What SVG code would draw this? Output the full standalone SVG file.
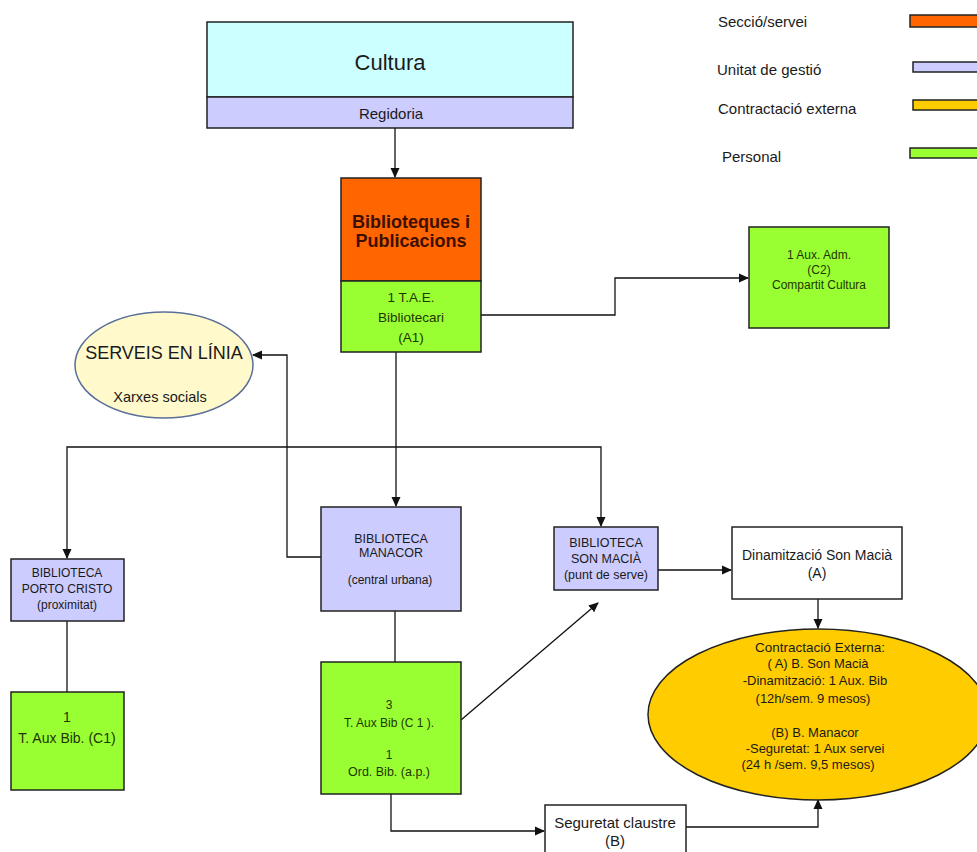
<svg xmlns="http://www.w3.org/2000/svg" width="977" height="852" viewBox="0 0 977 852">
<style>
text{font-family:"Liberation Sans",Arial,sans-serif;text-anchor:middle;dominant-baseline:central;fill:#1a1a1a}
.box{stroke:#222;stroke-width:1.5}
.cy{fill:#CCFFFF}.lav{fill:#CCCCFF}.org{fill:#FF6600}.grn{fill:#99FF33}.yel{fill:#FFCC00}.wht{fill:#FFFFFF}
.gt{fill:#1f3600}
.ot{fill:#3d0f00;font-weight:bold;font-size:18px}
.lg{text-anchor:start;font-size:15px}
.c{fill:none;stroke:#111;stroke-width:1.3}
</style>
<defs>
<marker id="ah" markerWidth="10" markerHeight="10" refX="9" refY="5" orient="auto" markerUnits="userSpaceOnUse">
<path d="M0,0.5 L10,5 L0,9.5 Z" fill="#111"/>
</marker>
</defs>

<g id="legend">
<text class="lg" x="718" y="21">Secció/servei</text>
<rect class="box org" x="910" y="15" width="80" height="12"/>
<text class="lg" x="717" y="69">Unitat de gestió</text>
<rect class="box lav" x="913" y="62" width="80" height="10"/>
<text class="lg" x="718" y="108">Contractació externa</text>
<rect class="box yel" x="913" y="100" width="80" height="10"/>
<text class="lg" x="722" y="156">Personal</text>
<rect class="box grn" x="910" y="148" width="80" height="10"/>
</g>

<g id="connectors">
<path class="c" d="M395,128 V177" marker-end="url(#ah)"/>
<path class="c" d="M481,315 H615 V278 H748" marker-end="url(#ah)"/>
<path class="c" d="M396,352 V506" marker-end="url(#ah)"/>
<path class="c" d="M396,447 H67 V558" marker-end="url(#ah)"/>
<path class="c" d="M396,447 H601 V526" marker-end="url(#ah)"/>
<path class="c" d="M321,557 H287 V355 H253" marker-end="url(#ah)"/>
<path class="c" d="M67,621 V692"/>
<path class="c" d="M395,611 V662"/>
<path class="c" d="M461,720 L598,603" marker-end="url(#ah)"/>
<path class="c" d="M658,570 H731" marker-end="url(#ah)"/>
<path class="c" d="M818,599 V628" marker-end="url(#ah)"/>
<path class="c" d="M391,794 V831 H544" marker-end="url(#ah)"/>
<path class="c" d="M686,827 H818 V800" marker-end="url(#ah)"/>
</g>

<g id="cultura">
<rect class="box cy" x="207" y="22" width="366" height="75"/>
<rect class="box lav" x="207" y="97" width="366" height="31"/>
<text x="390" y="62" style="font-size:22px">Cultura</text>
<text x="391" y="113" style="font-size:15px">Regidoria</text>
</g>

<g id="biblioteques">
<rect class="box org" x="341" y="178" width="140" height="103"/>
<rect class="box grn" x="341" y="281" width="140" height="71"/>
<text class="ot" x="411" y="222">Biblioteques i</text>
<text class="ot" x="411" y="241">Publicacions</text>
<text class="gt" x="411" y="297" style="font-size:13.5px">1 T.A.E.</text>
<text class="gt" x="411" y="317" style="font-size:13.5px">Bibliotecari</text>
<text class="gt" x="411" y="337" style="font-size:13.5px">(A1)</text>
</g>

<g id="auxadm">
<rect class="box grn" x="749" y="227" width="140" height="101"/>
<text class="gt" x="819" y="255" style="font-size:12px">1 Aux. Adm.</text>
<text class="gt" x="819" y="270" style="font-size:12px">(C2)</text>
<text class="gt" x="819" y="285" style="font-size:12px">Compartit Cultura</text>
</g>

<g id="serveis">
<ellipse cx="164" cy="365" rx="89" ry="53" fill="#FFF9CC" stroke="#5B6F99" stroke-width="1.5"/>
<text x="164" y="353" style="font-size:18px">SERVEIS EN LÍNIA</text>
<text x="160" y="397" style="font-size:14.5px">Xarxes socials</text>
</g>

<g id="portocristo">
<rect class="box lav" x="11" y="559" width="113" height="62"/>
<text x="67" y="573" style="font-size:12px">BIBLIOTECA</text>
<text x="67" y="589" style="font-size:12px">PORTO CRISTO</text>
<text x="67" y="605" style="font-size:12px">(proximitat)</text>
</g>

<g id="portocristo-personal">
<rect class="box grn" x="11" y="692" width="113" height="98"/>
<text class="gt" x="67" y="717" style="font-size:14px">1</text>
<text class="gt" x="67" y="738" style="font-size:14px">T. Aux Bib. (C1)</text>
</g>

<g id="manacor">
<rect class="box lav" x="321" y="507" width="140" height="104"/>
<text x="391" y="539" style="font-size:12.5px">BIBLIOTECA</text>
<text x="391" y="553" style="font-size:12.5px">MANACOR</text>
<text x="390" y="580" style="font-size:12px">(central urbana)</text>
</g>

<g id="manacor-personal">
<rect class="box grn" x="321" y="662" width="140" height="132"/>
<text class="gt" x="389" y="705" style="font-size:12px">3</text>
<text class="gt" x="389" y="723" style="font-size:12px">T. Aux Bib (C 1 ).</text>
<text class="gt" x="389" y="755" style="font-size:12px">1</text>
<text class="gt" x="389" y="772" style="font-size:12.5px">Ord. Bib. (a.p.)</text>
</g>

<g id="sonmacia">
<rect class="box lav" x="554" y="527" width="104" height="63"/>
<text x="606" y="543" style="font-size:12.5px">BIBLIOTECA</text>
<text x="606" y="559" style="font-size:12.5px">SON MACIÀ</text>
<text x="606" y="575" style="font-size:12.5px">(punt de serve)</text>
</g>

<g id="dinamitzacio">
<rect class="box wht" x="732" y="527" width="170" height="72"/>
<text x="817" y="555" style="font-size:14px">Dinamització Son Macià</text>
<text x="817" y="573" style="font-size:14px">(A)</text>
</g>

<g id="contractacio">
<ellipse cx="818" cy="714.5" rx="170" ry="85.5" fill="#FFCC00" stroke="#222" stroke-width="1.5"/>
<text x="820" y="647" style="font-size:13.5px">Contractació Externa:</text>
<text x="818" y="663" style="font-size:13px">( A) B. Son Macià</text>
<text x="815" y="680" style="font-size:13px">-Dinamització: 1 Aux. Bib</text>
<text x="813" y="698" style="font-size:13px">(12h/sem. 9 mesos)</text>
<text x="815" y="732" style="font-size:13px">(B) B. Manacor</text>
<text x="815" y="748" style="font-size:13px">-Seguretat: 1 Aux servei</text>
<text x="808" y="764" style="font-size:13px">(24 h /sem. 9,5 mesos)</text>
</g>

<g id="seguretat">
<rect class="box wht" x="545" y="805" width="141" height="60"/>
<text x="615" y="822" style="font-size:15px">Seguretat claustre</text>
<text x="615" y="840" style="font-size:15px">(B)</text>
</g>
</svg>
